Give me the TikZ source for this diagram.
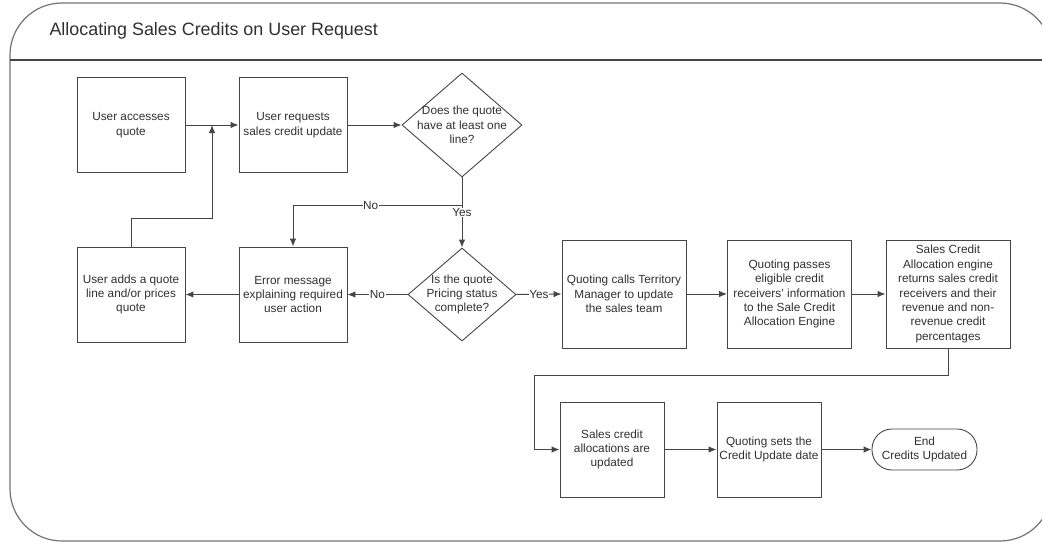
\documentclass[tikz,border=0pt]{standalone}
\usepackage{fontspec}
\setmainfont{Liberation Sans}
\usetikzlibrary{arrows.meta}
\usetikzlibrary{shapes.geometric}
\usepackage{xcolor}

\definecolor{linegray}{HTML}{454545}
\definecolor{textgray}{HTML}{303030}
\newcommand{\boxfont}{\fontsize{11.8}{14.4}\selectfont}

\tikzset{
  procbox/.style={draw=linegray, line width=0.9pt, minimum width=108, minimum height=95,
    align=center, inner sep=1pt, font=\boxfont, text=textgray},
  decision/.style={draw=linegray, line width=0.9pt, diamond, inner sep=0pt},
  dtext/.style={align=center, font=\boxfont, text=textgray, inner sep=0pt},
  terminal/.style={draw=linegray, line width=0.9pt, rounded corners=20pt, minimum width=105,
    minimum height=41, align=center, font=\boxfont, text=textgray},
  flow/.style={draw=linegray, line width=1pt, -{Latex[length=8pt,width=6.5pt]}},
  plain/.style={draw=linegray, line width=1pt},
  tag/.style={fill=white, font=\boxfont, text=textgray, inner sep=0.5pt}
}

\begin{document}
\begin{tikzpicture}[x=1pt,y=-1pt]
      \useasboundingbox (0,0) rectangle (1042,543);

      % Frame and header
      \draw[gray!90!black, line width=1.2pt, rounded corners=52pt] (10,3) rectangle (1052,541);
      \draw[linegray, line width=1.3pt] (10,60) -- (1052,60);
      \node[anchor=west, font=\fontsize{17.9}{21}\selectfont, text=textgray] (title) at (46,31)
        {Allocating Sales Credits on User Request};

      % Top row
      \node[procbox] (access) at (131,125) {User accesses\\quote};
      \node[procbox] (request) at (293,125) {User requests\\sales credit update};
      \node[decision, minimum width=120, minimum height=104,
        label={[dtext]center:Does the quote\\have at least one\\line?}] (hasline) at (462,125) {};

      % Middle row
      \node[procbox] (addline) at (131,294.5) {User adds a quote\\line and/or prices\\quote};
      \node[procbox] (errmsg) at (293,294.5) {Error message\\explaining required\\user action};
      \node[decision, minimum width=108, minimum height=93,
        label={[dtext]center:Is the quote\\Pricing status\\complete?}] (pricing) at (462,294.5) {};
      \node[procbox, minimum width=124, minimum height=108] (territory) at (624,294)
        {Quoting calls Territory\\Manager to update\\the sales team};
      \node[procbox, minimum width=124, minimum height=108] (passes) at (789.5,294)
        {Quoting passes\\eligible credit\\receivers' information\\to the Sale Credit\\Allocation Engine};
      \node[procbox, minimum width=124, minimum height=108] (engine) at (948,294)
        {Sales Credit\\Allocation engine\\returns sales credit\\receivers and their\\revenue and non-\\revenue credit\\percentages};

      % Bottom row
      \node[procbox, minimum width=104] (updated) at (612,449.5) {Sales credit\\allocations are\\updated};
      \node[procbox, minimum width=104] (setdate) at (769,449.5) {Quoting sets the\\Credit Update date};
      \node[terminal] (finish) at (924.5,449.5) {End\\Credits Updated};

      % Connectors
      \coordinate (join) at (212,125);
      \coordinate (split) at (462,205);
      \coordinate (wrap) at (534,375);

      \draw[flow] (access) -- (request);
      \draw[flow] (request) -- (hasline);
      \draw[plain] (hasline.south) -- (split);
      \draw[flow] (split) -| node[tag, pos=0.27] {No} (errmsg.north);
      \draw[flow] (split) -- node[tag, pos=0.17] {Yes} (pricing.north);
      \draw[flow] (pricing.west) -- node[tag] {No} (errmsg.east);
      \draw[flow] (errmsg) -- (addline);
      \draw[flow] (addline.north) -- ++(0,-28) -| (join);
      \draw[flow] (pricing.east) -- node[tag] {Yes} (territory.west);
      \draw[flow] (territory) -- (passes);
      \draw[flow] (passes) -- (engine);
      \draw[flow] (engine.south) |- (wrap) |- (updated.west);
      \draw[flow] (updated) -- (setdate);
      \draw[flow] (setdate) -- (finish);

  \end{tikzpicture}
\end{document}
